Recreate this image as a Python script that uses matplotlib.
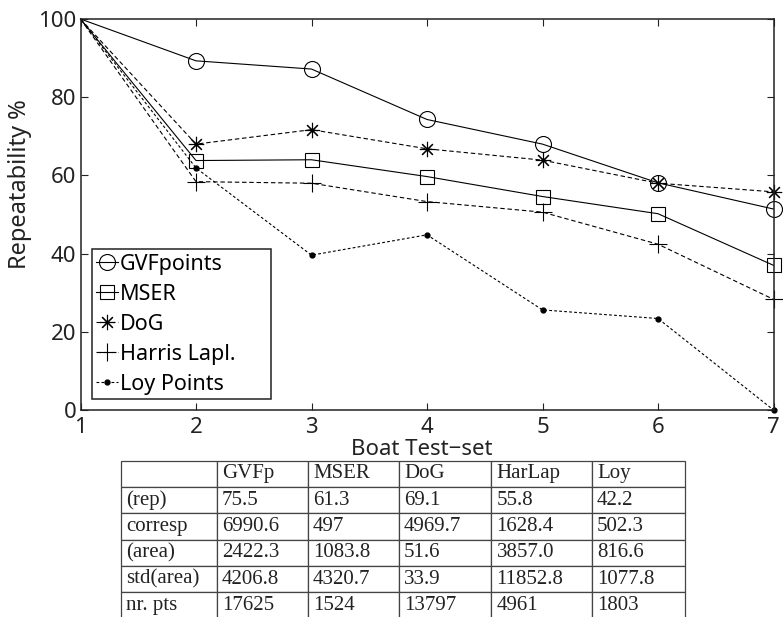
import matplotlib
matplotlib.use("Agg")
from matplotlib import pyplot as plt

plt.rcParams['font.family'] = ['Noto Sans', 'DejaVu Sans']

# repeatability per image pair of the boat sequence
pairs = [1, 2, 3, 4, 5, 6, 7]
gvf_points = [100, 89.3, 87.2, 74.3, 68.0, 58.1, 51.4]
mser = [100, 63.8, 64.0, 59.7, 54.6, 50.2, 37.0]
dog = [100, 68.0, 71.7, 66.8, 63.9, 58.0, 55.8]
harris_lapl = [100, 58.4, 58.0, 53.3, 50.6, 42.4, 28.3]
loy_points = [100, 61.9, 39.6, 44.8, 25.6, 23.4, 0.0]

# summary table below the plot
table_header = ["", "GVFp", "MSER", "DoG", "HarLap", "Loy"]
table_rows = [
    ["(rep)", "75.5", "61.3", "69.1", "55.8", "42.2"],
    ["corresp", "6990.6", "497", "4969.7", "1628.4", "502.3"],
    ["(area)", "2422.3", "1083.8", "51.6", "3857.0", "816.6"],
    ["std(area)", "4206.8", "4320.7", "33.9", "11852.8", "1077.8"],
    ["nr. pts", "17625", "1524", "13797", "4961", "1803"],
]

W, H = 783, 617
fig = plt.figure(figsize=(W / 100, H / 100), dpi=100)
ax = fig.add_axes([80.5 / W, 1 - 410 / H, 693 / W, 391 / H])

lw = 0.8
every = slice(1, None)  # the first pair is the reference image, no marker
ax.plot(pairs, gvf_points, color='k', lw=lw, marker='o', ms=11.5, mfc='none',
        mew=0.8, markevery=every, label='GVFpoints', clip_on=False)
ax.plot(pairs, mser, color='k', lw=lw, marker='s', ms=10, mfc='none',
        mew=0.8, markevery=every, label='MSER', clip_on=False)
ax.plot(pairs, dog, color='k', lw=lw, ls=(0, (4, 2.5)), marker=(8, 2, 0),
        ms=11, mew=0.8, markevery=every, label='DoG', clip_on=False)
ax.plot(pairs, harris_lapl, color='k', lw=lw, ls=(0, (4, 2.5)), marker='+',
        ms=13, mew=0.8, markevery=every, label='Harris Lapl.', clip_on=False)
ax.plot(pairs, loy_points, color='k', lw=lw, ls=(0, (2.5, 2)), marker='o',
        ms=3.5, markevery=every, label='Loy Points', clip_on=False)

ax.set_xlim(1, 7)
ax.set_ylim(0, 100)
ax.set_xticks(pairs)
ax.set_yticks([0, 20, 40, 60, 80, 100])
ax.tick_params(direction='in', top=True, right=True, length=5, width=0.8,
               labelsize=16, pad=3, colors='#222222')
ax.tick_params(axis='x', pad=5)
for s in ax.spines.values():
    s.set_linewidth(1.1)
    s.set_color('#222222')

ax.set_ylabel('Repeatability %', fontsize=17, color='#222222')
ax.yaxis.set_label_coords(-0.07, 0.578)
ax.set_xlabel('Boat Test\u2212set', fontsize=16, color='#222222')
ax.xaxis.set_label_coords(0.493, -0.075)

leg = ax.legend(loc='lower left', bbox_to_anchor=(0.0166, 0.028, 0.2583, 0.384),
                mode='expand', borderaxespad=0, fontsize=15.5, handlelength=1.0,
                handletextpad=0.1, labelspacing=0.42, borderpad=0.2,
                fancybox=False, framealpha=1, edgecolor='#222222')
leg.get_frame().set_linewidth(1.1)

# table drawn in its own axes, bottom row runs off the figure edge
tax = fig.add_axes([121 / W, 1 - 618.5 / H, 564 / W, 157.8 / H])
tax.axis('off')
col_px = [95.7, 91.3, 91, 92, 101, 93]
tbl = tax.table(cellText=table_rows, colLabels=table_header, cellLoc='left',
                colLoc='left', bbox=[0, 0, 1, 1],
                colWidths=[c / sum(col_px) for c in col_px])
tbl.auto_set_font_size(False)
for cell in tbl.get_celld().values():
    cell.set_linewidth(0.9)
    cell.set_edgecolor('#444444')
    cell.PAD = 0.055
    cell.get_text().set_fontfamily('Liberation Serif')
    cell.get_text().set_fontsize(15)
    cell.get_text().set_color('#222222')

fig.savefig('out.png', dpi=100)
